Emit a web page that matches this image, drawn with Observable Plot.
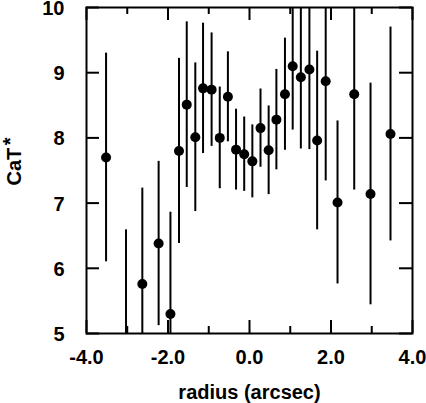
<!DOCTYPE html>
<html><head><meta charset="utf-8">
<script src="https://cdn.jsdelivr.net/npm/d3@7"></script>
<script src="https://cdn.jsdelivr.net/npm/@observablehq/plot@0.6"></script>
<style>body{margin:0;background:#fff}</style>
</head><body><div id="chart"></div>
<script>
const radius = [-3.52, -3.03, -2.63, -2.23, -1.94, -1.73, -1.54, -1.33, -1.14, -0.93, -0.73, -0.53, -0.33, -0.13, 0.07, 0.27, 0.47, 0.66, 0.87, 1.06, 1.26, 1.47, 1.66, 1.87, 2.16, 2.57, 2.97, 3.46];
const cat = [7.70, 4.70, 5.76, 6.38, 5.30, 7.80, 8.51, 8.01, 8.76, 8.74, 8.00, 8.63, 7.82, 7.75, 7.64, 8.15, 7.81, 8.28, 8.67, 9.10, 8.93, 9.05, 7.96, 8.87, 7.01, 8.67, 7.14, 8.06];
const catErr = [1.60, 1.89, 1.47, 1.26, 1.56, 1.42, 1.27, 1.14, 1.00, 0.87, 0.78, 0.69, 0.62, 0.57, 0.56, 0.60, 0.68, 0.77, 0.86, 0.98, 1.10, 1.23, 1.37, 1.53, 1.25, 1.47, 1.70, 1.64];
const xMajorTicks = [-4, -2, 0, 2, 4];
const xMinorTicks = [-3, -1, 1, 3];
const yTicks = [5, 6, 7, 8, 9, 10];
const xDomain = [-4, 4];
const yDomain = [5, 10];
const xLabel = "radius (arcsec)";
const yLabel = "CaT";
const yLabelSup = "*";

const data = radius.map((x, i) => ({x, y: cat[i], lo: cat[i] - catErr[i], hi: cat[i] + catErr[i]}));
const W = 426, H = 403, mL = 86, mR = 14, mT = 7, mB = 70;
const pw = W - mL - mR, ph = H - mT - mB;
const major = 13, minor = 7;
const font = "'Liberation Sans', Arial, Helvetica, sans-serif";
const ink = "#000";

const chart = Plot.plot({
  width: W, height: H,
  marginLeft: mL, marginRight: mR, marginTop: mT, marginBottom: mB,
  style: {fontFamily: font, background: "#fff", color: ink},
  x: {domain: xDomain},
  y: {domain: yDomain},
  marks: [
    Plot.ruleX(data, {x: "x", y1: "lo", y2: "hi", stroke: ink, strokeWidth: 2, clip: true}),
    Plot.dot(data, {x: "x", y: "y", r: 5, fill: ink, stroke: null, clip: true}),
    Plot.tickX(xMajorTicks, {x: d => d, insetTop: ph - major, stroke: ink, strokeWidth: 2}),
    Plot.tickX(xMajorTicks, {x: d => d, insetBottom: ph - major, stroke: ink, strokeWidth: 2}),
    Plot.tickX(xMinorTicks, {x: d => d, insetTop: ph - minor, stroke: ink, strokeWidth: 2}),
    Plot.tickX(xMinorTicks, {x: d => d, insetBottom: ph - minor, stroke: ink, strokeWidth: 2}),
    Plot.tickY(yTicks, {y: d => d, insetRight: pw - major, stroke: ink, strokeWidth: 2}),
    Plot.tickY(yTicks, {y: d => d, insetLeft: pw - major, stroke: ink, strokeWidth: 2}),
    Plot.frame({stroke: ink, strokeWidth: 2}),
    Plot.axisX(xMajorTicks, {tickSize: 0, tickPadding: 16, tickFormat: d => d.toFixed(1), fontSize: 20, fontWeight: "bold", label: null}),
    Plot.axisY(yTicks, {tickSize: 0, tickPadding: 22, tickFormat: d => String(d), dy: 1, fontSize: 20, fontWeight: "bold", label: null}),
    Plot.text([xLabel], {frameAnchor: "bottom", dy: 65, lineAnchor: "bottom", fontSize: 20, fontWeight: "bold", fill: ink}),
    Plot.text([yLabel + yLabelSup], {frameAnchor: "left", dx: -66, dy: -9, rotate: -90, lineAnchor: "bottom", textAnchor: "middle", fontSize: 20, fontWeight: "bold", fill: ink})
  ]
});
// raise the asterisk as a superscript
d3.select(chart).selectAll("text").filter(function () { return this.textContent === yLabel + yLabelSup; })
  .each(function () {
    const t = d3.select(this);
    t.text(yLabel);
    t.append("tspan").attr("dx", "0.12em").attr("dy", "-0.18em").text(yLabelSup);
  });
document.getElementById("chart").appendChild(chart);
</script>
</body></html>
